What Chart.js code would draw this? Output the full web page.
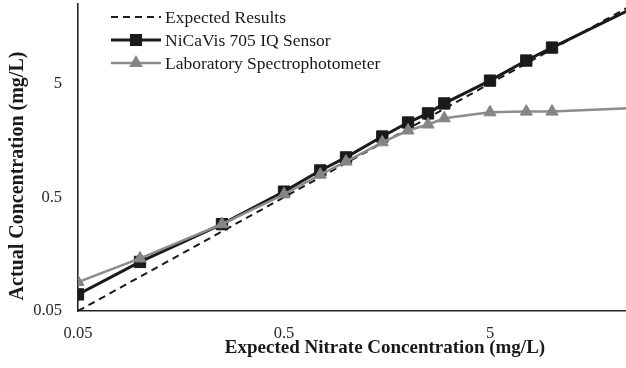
<!DOCTYPE html>
<html>
<head>
<meta charset="utf-8">
<script src="https://cdn.jsdelivr.net/npm/chart.js@4/dist/chart.umd.min.js"></script>
<style>
  html, body { margin: 0; padding: 0; background: #fff; overflow: hidden; }
  #wrap { width: 626px; height: 368px; overflow: hidden; }
</style>
</head>
<body>
<div id="wrap"><canvas id="chart" width="634" height="368"></canvas></div>
<script>
// 数据
const seriesNames = ['Expected Results', 'NiCaVis 705 IQ Sensor', 'Laboratory Spectrophotometer'];

const expectedX = [0.05, 25];
const expectedY = [0.05, 25];

const sampleX = [0.05, 0.1, 0.25, 0.5, 0.75, 1, 1.5, 2, 2.5, 3, 5, 7.5, 10, 25];
const sensorY = [0.07, 0.135, 0.29, 0.56, 0.86, 1.12, 1.71, 2.27, 2.73, 3.34, 5.3, 7.96, 10.35, 23.2];
const labY = [0.09, 0.145, 0.29, 0.53, 0.79, 1.03, 1.52, 1.93, 2.18, 2.47, 2.79, 2.83, 2.83, 3.05];

const tickValues = [0.05, 0.5, 5];
const tickLabels = ['0.05', '0.5', '5'];

const xTitle = 'Expected Nitrate Concentration (mg/L)';
const yTitle = 'Actual Concentration (mg/L)';

const SERIF = '"Liberation Serif", "Times New Roman", serif';

function toPoints(xs, ys) {
  return xs.map((x, i) => ({ x: x, y: ys[i] }));
}

function tickLabel(value) {
  const i = tickValues.indexOf(value);
  return i >= 0 ? tickLabels[i] : '';
}

// 图例（线 + 标记）
const legendPlugin = {
  id: 'sampleLegend',
  afterDraw(chart) {
    const ctx = chart.ctx;
    chart.data.datasets.forEach((ds, i) => {
      const y = 17 + i * 23;
      ctx.save();
      ctx.strokeStyle = ds.borderColor;
      ctx.lineWidth = ds.borderWidth;
      ctx.setLineDash(ds.borderDash || []);
      ctx.beginPath();
      ctx.moveTo(111, y);
      ctx.lineTo(161, y);
      ctx.stroke();
      ctx.setLineDash([]);
      if (ds.pointRadius > 0) {
        ctx.fillStyle = ds.pointBackgroundColor;
        ctx.strokeStyle = ds.pointBorderColor;
        Chart.helpers.drawPoint(ctx, {
          pointStyle: ds.pointStyle,
          radius: ds.pointRadius - 1.5,
          borderWidth: 1,
          rotation: 0
        }, 136, y);
      }
      ctx.fillStyle = '#1a1a1a';
      ctx.font = '17.5px ' + SERIF;
      ctx.textBaseline = 'middle';
      ctx.textAlign = 'left';
      ctx.fillText(ds.label, 165, y + 1);
      ctx.restore();
    });
  }
};

// 坐标轴标题
const titlePlugin = {
  id: 'axisTitles',
  afterDraw(chart) {
    const ctx = chart.ctx;
    ctx.save();
    ctx.fillStyle = '#1a1a1a';
    ctx.textAlign = 'center';
    ctx.textBaseline = 'middle';
    ctx.font = 'bold 19px ' + SERIF;
    ctx.fillText(xTitle, 385, 348);
    ctx.font = 'bold 20px ' + SERIF;
    ctx.translate(18, 176);
    ctx.rotate(-Math.PI / 2);
    ctx.fillText(yTitle, 0, 0);
    ctx.restore();
  }
};

function axis(isX) {
  return {
    type: 'logarithmic',
    min: 0.05,
    max: 25,
    afterBuildTicks: (scale) => {
      scale.ticks = tickValues.map(v => ({ value: v }));
    },
    afterFit: (scale) => {
      if (isX) scale.height = 57;
      else scale.width = 78;
      // 不为刻度文字预留额外边距
      scale.paddingTop = 0;
      scale.paddingBottom = 0;
      scale.paddingLeft = 0;
      scale.paddingRight = 0;
    },
    grid: { display: true, drawOnChartArea: false, drawTicks: false },
    border: { display: true, color: '#262626', width: 1.6 },
    ticks: {
      autoSkip: false,
      maxRotation: 0,
      padding: isX ? 13 : 16,
      color: '#262626',
      font: { family: SERIF, size: 16.5 },
      callback: (value) => tickLabel(value)
    }
  };
}

new Chart(document.getElementById('chart'), {
  type: 'line',
  data: {
    datasets: [
      {
        label: seriesNames[0],
        data: toPoints(expectedX, expectedY),
        borderColor: '#1a1a1a',
        borderWidth: 2,
        borderDash: [7, 5],
        pointRadius: 0,
        order: 2
      },
      {
        label: seriesNames[1],
        data: toPoints(sampleX, sensorY),
        borderColor: '#1a1a1a',
        borderWidth: 3,
        pointStyle: 'rect',
        pointRadius: 8,
        pointBackgroundColor: '#1a1a1a',
        pointBorderColor: '#1a1a1a',
        pointBorderWidth: 1,
        order: 1
      },
      {
        label: seriesNames[2],
        data: toPoints(sampleX, labY),
        borderColor: '#8c8c8c',
        borderWidth: 2.5,
        pointStyle: 'triangle',
        pointRadius: 7,
        pointBackgroundColor: '#858585',
        pointBorderColor: '#858585',
        pointBorderWidth: 1,
        order: 0
      }
    ]
  },
  options: {
    responsive: false,
    animation: false,
    layout: { autoPadding: false, padding: { top: 4, left: 0, right: 0, bottom: 0 } },
    plugins: {
      legend: { display: false },
      tooltip: { enabled: false }
    },
    scales: {
      x: axis(true),
      y: axis(false)
    }
  },
  plugins: [legendPlugin, titlePlugin]
});
</script>
</body>
</html>
